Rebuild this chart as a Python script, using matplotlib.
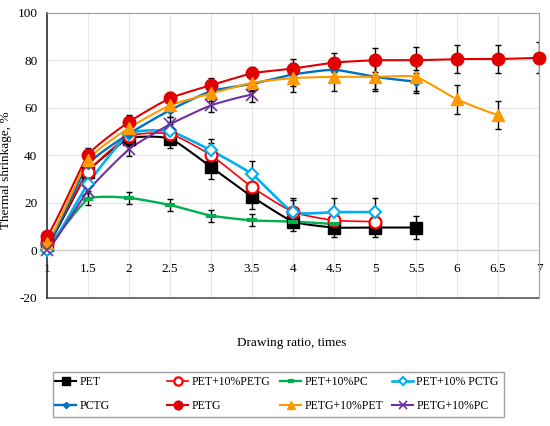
import numpy as np
import matplotlib.pyplot as plt
from matplotlib.patches import Rectangle

plt.rcParams['font.family'] = ['Liberation Serif', 'DejaVu Serif']
plt.rcParams['axes.unicode_minus'] = False

# drawing ratio values
x_pet = [1, 1.5, 2, 2.5, 3, 3.5, 4, 4.5, 5, 5.5]
pet = [2, 33, 47, 47, 35, 22.5, 12, 9.5, 9.5, 9.5]
pet_err = [1, 3, 3, 4, 5, 5, 4, 4, 4, 5]

x_pet_petg = [1, 1.5, 2, 2.5, 3, 3.5, 4, 4.5, 5]
pet_petg = [3, 33, 48, 49, 40, 26.5, 16, 12.5, 12]
pet_petg_err = [1, 3, 3, 4, 5, 5, 5, 5, 5]

x_pet_pc = [1, 1.5, 2, 2.5, 3, 3.5, 4, 4.5]
pet_pc = [2, 21.5, 22, 19, 14.5, 12.5, 12, 11]
pet_pc_err = [1, 2.5, 2.5, 2.5, 2.5, 2.5, 2, 2]

x_pet_pctg = [1, 1.5, 2, 2.5, 3, 3.5, 4, 4.5, 5]
pet_pctg = [0, 28, 49, 50, 42, 32, 16, 16, 16]
pet_pctg_err = [1, 3, 3, 4, 5, 5.5, 6, 6, 6]

x_pctg = [1, 1.5, 2, 2.5, 3, 3.5, 4, 4.5, 5, 5.5]
pctg = [2, 36, 49, 59, 67, 70, 74, 76, 73, 71]
pctg_err = [1, 3, 3, 3, 3, 3, 5, 5, 5, 5]

x_petg = [1, 1.5, 2, 2.5, 3, 3.5, 4, 4.5, 5, 5.5, 6, 6.5, 7]
petg = [6, 40, 54, 64, 69.5, 74.5, 76.5, 79, 80, 80, 80.5, 80.5, 81]
petg_err = [1, 3, 3, 2.5, 3, 2.5, 4, 4, 5, 5.5, 6, 6, 6.5]

x_petg_pet = [1, 1.5, 2, 2.5, 3, 3.5, 4, 4.5, 5, 5.5, 6, 6.5]
petg_pet = [3, 38, 51.5, 61, 66, 70.5, 72.5, 73, 73, 73, 63.5, 57]
petg_pet_err = [1, 3, 3, 3, 3, 3, 6, 6, 6, 6, 6, 6]

x_petg_pc = [1, 1.5, 2, 2.5, 3, 3.5]
petg_pc = [0, 25, 42.5, 53, 61, 65.5]
petg_pc_err = [1, 3, 3, 3, 3, 3]

labels = ['PET', 'PET+10%PETG', 'PET+10%PC', 'PET+10% PCTG',
          'PCTG', 'PETG', 'PETG+10%PET', 'PETG+10%PC']


def smooth(xs, ys, n=20, t=0.5):
    # catmull-rom style curve through the points, like excel's smoothed line
    xs = np.asarray(xs, float)
    ys = np.asarray(ys, float)
    px = np.concatenate([[2 * xs[0] - xs[1]], xs, [2 * xs[-1] - xs[-2]]])
    py = np.concatenate([[ys[0]], ys, [ys[-1]]])
    ox, oy = [], []
    s = np.linspace(0, 1, n, endpoint=False)
    h00 = 2 * s**3 - 3 * s**2 + 1
    h10 = s**3 - 2 * s**2 + s
    h01 = -2 * s**3 + 3 * s**2
    h11 = s**3 - s**2
    for i in range(1, len(px) - 2):
        m1x, m2x = t * (px[i + 1] - px[i - 1]) / 2, t * (px[i + 2] - px[i]) / 2
        m1y, m2y = t * (py[i + 1] - py[i - 1]) / 2, t * (py[i + 2] - py[i]) / 2
        ox.extend(h00 * px[i] + h10 * m1x + h01 * px[i + 1] + h11 * m2x)
        oy.extend(h00 * py[i] + h10 * m1y + h01 * py[i + 1] + h11 * m2y)
    ox.append(xs[-1])
    oy.append(ys[-1])
    return ox, oy


series = [
    (x_pet, pet, pet_err, 'black', dict(marker='s', ms=8, mfc='black', mec='black'), 1.5),
    (x_pet_petg, pet_petg, pet_petg_err, '#ff0000', dict(marker='o', ms=8.5, mfc='white', mec='#ff0000', mew=1.6), 1.2),
    (x_pet_pc, pet_pc, pet_pc_err, '#00b050', dict(marker='_', ms=7, mec='#00b050', mew=3), 1.7),
    (x_pet_pctg, pet_pctg, pet_pctg_err, '#00b0f0', dict(marker='D', ms=6.5, mfc='white', mec='#00b0f0', mew=1.5), 1.9),
    (x_pctg, pctg, pctg_err, '#0070c0', dict(marker='D', ms=4.5, mfc='#0070c0', mec='#0070c0'), 1.7),
    (x_petg, petg, petg_err, '#e00000', dict(marker='o', ms=9, mfc='#e00000', mec='#e00000'), 1.5),
    (x_petg_pet, petg_pet, petg_pet_err, '#ff9900', dict(marker='^', ms=9, mfc='#ff9900', mec='#ff9900'), 1.5),
    (x_petg_pc, petg_pc, petg_pc_err, '#7030a0', dict(marker='x', ms=9, mec='#7030a0', mew=1.2), 1.5),
]

fig = plt.figure(figsize=(5.5, 4.26), dpi=100)
ax = fig.add_axes([0.0855, 0.3016, 0.8945, 0.6684])

handles = []
for xs, ys, err, col, mk, lw in series:
    ax.errorbar(xs, ys, yerr=err, fmt='none', ecolor='black', elinewidth=1.0,
                capsize=2.5, capthick=1.0, zorder=2)
    sx, sy = smooth(xs, ys)
    ax.plot(sx, sy, color=col, lw=lw, zorder=3)
    ax.plot(xs, ys, ls='none', zorder=4, clip_on=False, **mk)
    h, = ax.plot([], [], color=col, lw=lw, **dict(mk, ms=mk['ms'] * 0.7))
    handles.append(h)

ax.set_xlim(1, 7)
ax.set_ylim(-20, 100)
ax.set_xticks(np.arange(1, 7.01, 0.5))
ax.set_xticklabels(['1', '1.5', '2', '2.5', '3', '3.5', '4', '4.5', '5', '5.5', '6', '6.5', '7'])
ax.set_yticks([-20, 0, 20, 40, 60, 80, 100])
ax.grid(color='#e6e6e6', lw=0.8, zorder=0)
ax.set_axisbelow(True)
ax.axhline(0, color='#d0d0d0', lw=1.0, zorder=1)

ax.spines['bottom'].set_position(('data', 0))
ax.spines['bottom'].set_visible(False)
ax.plot([0, 1], [0, 0], transform=ax.transAxes, color='#555555', lw=1.2, clip_on=False)
ax.spines['left'].set_color('#333333')
ax.spines['left'].set_linewidth(1.2)
ax.spines['top'].set_color('#a0a0a0')
ax.spines['right'].set_color('#a0a0a0')
ax.tick_params(axis='both', length=0, labelsize=9.5)
ax.tick_params(axis='x', pad=9)
ax.tick_params(axis='y', pad=7)

ax.set_ylabel('Thermal shrinkage, %', fontsize=9.5)
ax.yaxis.set_label_coords(-0.071, 0.448)
fig.text(0.531, 0.195, 'Drawing ratio, times', ha='center', va='center', fontsize=9.5)

# legend: frame plus four equal columns of two entries each
fig.patches.append(Rectangle((53 / 550, 1 - 417 / 426), 451 / 550, 45 / 426,
                             transform=fig.transFigure, fill=False,
                             edgecolor='#a0a0a0', lw=1.0))
col_x = [55, 167, 280, 392]
for c in range(4):
    idx = [c, c + 4]
    fig.legend([handles[i] for i in idx], [labels[i] for i in idx],
               loc='upper left', bbox_to_anchor=(col_x[c] / 550, 1 - 376 / 426),
               fontsize=8.5, frameon=False, handlelength=1.8, handletextpad=0.25,
               borderpad=0.0, borderaxespad=0.0, labelspacing=1.0)

fig.savefig('out.png', dpi=100)
